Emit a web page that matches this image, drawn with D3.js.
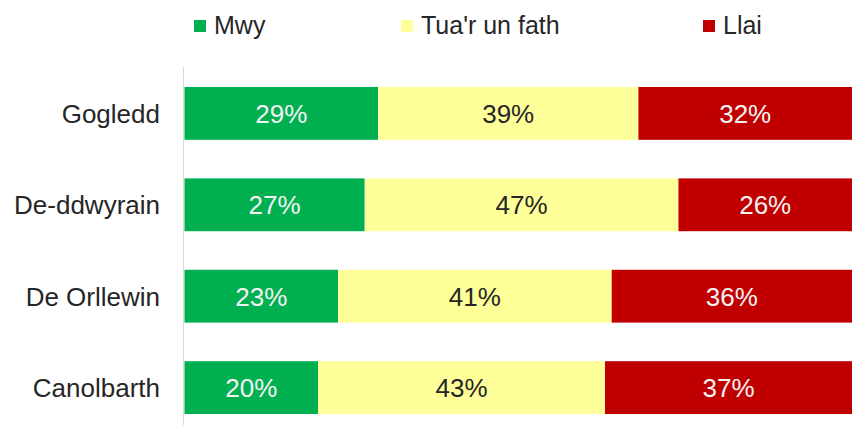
<!DOCTYPE html>
<html lang="cy">
<head>
  <meta charset="utf-8" />
  <script src="https://cdn.jsdelivr.net/npm/d3@7"></script>
  <style>
    body { margin: 0; background: #fff; }
    text { font-family: "Liberation Sans", Arial, sans-serif; }
  </style>
</head>
<body>
  <div id="chart"></div>
  <script>
    // data
    const regions = ["Gogledd", "De-ddwyrain", "De Orllewin", "Canolbarth"];
    const seriesNames = ["Mwy", "Tua'r un fath", "Llai"];
    const mwy = [29, 27, 23, 20];
    const tua = [39, 47, 41, 43];
    const llai = [32, 26, 36, 37];

    const colors = ["#00B050", "#FFFF99", "#C00000"];
    const labelColors = ["#f2f2f2", "#262626", "#f2f2f2"];

    const svgWidth = 861, svgHeight = 425;
    const plot = { left: 184.5, right: 852, top: 67.7, bottom: 433.3 };

    const rows = regions.map((r, i) => ({ region: r, values: [mwy[i], tua[i], llai[i]] }));

    const svg = d3.select("#chart").append("svg")
      .attr("width", svgWidth)
      .attr("height", svgHeight);

    const x = d3.scaleLinear().domain([0, 100]).range([plot.left, plot.right]);
    const y = d3.scaleBand()
      .domain(regions)
      .range([plot.top, plot.bottom])
      .paddingInner(0.422)
      .paddingOuter(0.211);

    // vertical axis line
    svg.append("line")
      .attr("x1", 183.5).attr("x2", 183.5)
      .attr("y1", 67).attr("y2", 425)
      .attr("stroke", "#d9d9d9")
      .attr("stroke-width", 1);

    // category labels
    svg.append("g")
      .selectAll("text")
      .data(regions)
      .join("text")
      .attr("x", 160)
      .attr("y", d => y(d) + y.bandwidth() / 2)
      .attr("dy", "0.36em")
      .attr("text-anchor", "end")
      .attr("font-size", 26)
      .attr("fill", "#262626")
      .text(d => d);

    // stacked segments
    const segs = [];
    rows.forEach(row => {
      let acc = 0;
      row.values.forEach((v, k) => {
        segs.push({ region: row.region, k, x0: acc, x1: acc + v, v });
        acc += v;
      });
    });

    svg.append("g")
      .selectAll("rect")
      .data(segs)
      .join("rect")
      .attr("x", d => x(d.x0))
      .attr("y", d => y(d.region))
      .attr("width", d => x(d.x1) - x(d.x0))
      .attr("height", y.bandwidth())
      .attr("fill", d => colors[d.k]);

    svg.append("g")
      .selectAll("text")
      .data(segs)
      .join("text")
      .attr("x", d => (x(d.x0) + x(d.x1)) / 2)
      .attr("y", d => y(d.region) + y.bandwidth() / 2)
      .attr("dy", "0.36em")
      .attr("text-anchor", "middle")
      .attr("font-size", 26)
      .attr("fill", d => labelColors[d.k])
      .text(d => d.v + "%");

    // legend
    const legendX = [194, 401, 703];
    const legend = svg.append("g")
      .selectAll("g")
      .data(seriesNames)
      .join("g")
      .attr("transform", (d, i) => `translate(${legendX[i]}, 20)`);

    legend.append("rect")
      .attr("width", 12)
      .attr("height", 12)
      .attr("fill", (d, i) => colors[i]);

    legend.append("text")
      .attr("x", 20)
      .attr("y", 14)
      .attr("font-size", 25)
      .attr("fill", "#262626")
      .text(d => d);
  </script>
</body>
</html>
